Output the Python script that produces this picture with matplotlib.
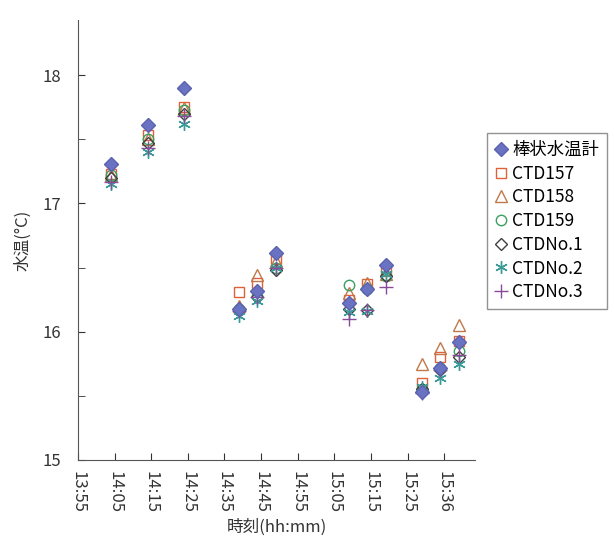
import matplotlib
matplotlib.use("Agg")
import matplotlib.pyplot as plt
from matplotlib.ticker import MultipleLocator

plt.rcParams['font.family'] = ['Noto Sans CJK JP', 'DejaVu Sans']

# 観測時刻 (hh:mm)
times = ["14:04", "14:14", "14:24", "14:39", "14:44", "14:49",
         "15:09", "15:14", "15:19", "15:29", "15:34", "15:39"]

bou = [17.31, 17.61, 17.90, 16.18, 16.32, 16.61, 16.22, 16.33, 16.52, 15.53, 15.72, 15.92]
ctd157 = [17.23, 17.53, 17.75, 16.31, 16.38, 16.57, 16.25, 16.37, 16.47, 15.60, 15.80, 15.93]
ctd158 = [17.22, 17.50, 17.74, 16.20, 16.44, 16.55, 16.30, 16.38, 16.45, 15.75, 15.87, 16.05]
ctd159 = [17.22, 17.50, 17.73, 16.18, 16.28, 16.50, 16.36, 16.33, 16.43, 15.55, 15.72, 15.85]
no1 = [17.20, 17.47, 17.70, 16.17, 16.27, 16.48, 16.18, 16.17, 16.43, 15.55, 15.70, 15.80]
no2 = [17.15, 17.40, 17.62, 16.12, 16.24, 16.50, 16.15, 16.16, 16.45, 15.57, 15.64, 15.75]
no3 = [17.17, 17.43, 17.68, 16.16, 16.27, 16.50, 16.10, 16.17, 16.35, 15.52, 15.70, 15.82]

tick_labels = ["13:55", "14:05", "14:15", "14:25", "14:35", "14:45",
               "14:55", "15:05", "15:15", "15:25", "15:36"]


def to_min(s):
    h, m = s.split(":")
    return int(h) * 60 + int(m)


x = [to_min(t) for t in times]
x0 = to_min("13:55")

fig = plt.figure(figsize=(6.14, 5.41), dpi=100)
ax = fig.add_axes([0.127, 0.150, 0.647, 0.813])

ax.plot(x, bou, ls='none', marker='D', ms=7, mfc='#6a72c2', mec='#5a62b0', label='棒状水温計', zorder=10)
ax.plot(x, ctd157, ls='none', marker='s', ms=7.5, mfc='none', mec='#e0603a', mew=1.0, label='CTD157')
ax.plot(x, ctd158, ls='none', marker='^', ms=8.5, mfc='none', mec='#c07848', mew=1.0, label='CTD158')
ax.plot(x, ctd159, ls='none', marker='o', ms=7.5, mfc='none', mec='#3aa060', mew=1.0, label='CTD159')
ax.plot(x, no1, ls='none', marker='D', ms=6, mfc='none', mec='#404040', mew=1.0, label='CTDNo.1')
ax.plot(x, no2, ls='none', marker=(6, 2, 0), ms=9, mec='#3a9a98', mew=1.0, label='CTDNo.2')
ax.plot(x, no3, ls='none', marker='+', ms=10, mec='#8a4a9a', mew=1.0, label='CTDNo.3')

ax.set_xlim(x0, x0 + 108.5)
ax.set_xticks([x0 + 10 * i for i in range(len(tick_labels))])
ax.set_xticklabels(tick_labels, rotation=-90, fontsize=12, color='#333333')
ax.set_ylim(15, 18.43)
ax.yaxis.set_major_locator(MultipleLocator(1))
ax.yaxis.set_minor_locator(MultipleLocator(0.5))
ax.tick_params(axis='y', which='both', direction='in', length=5, labelsize=12, colors='#333333', pad=12)
ax.tick_params(axis='x', direction='in', length=5, colors='#333333', pad=8)

for s in ['top', 'right']:
    ax.spines[s].set_visible(False)
for s in ['left', 'bottom']:
    ax.spines[s].set_color('#555555')

ax.set_xlabel('時刻(hh:mm)', fontsize=12, color='#333333')
ax.set_ylabel('水温(°C)', fontsize=12, color='#333333', labelpad=8)

leg = ax.legend(loc='upper left', bbox_to_anchor=(1.03, 0.743), fontsize=12.5, frameon=True,
                fancybox=False, edgecolor='#777777', handlelength=0.7, handletextpad=0.3,
                borderpad=0.45, labelspacing=0.33, borderaxespad=0)

fig.savefig('out.png', dpi=100)
